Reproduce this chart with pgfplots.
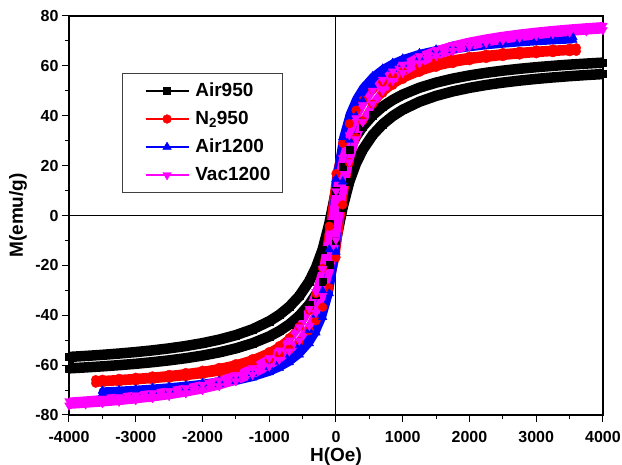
\documentclass[border=0pt]{standalone}
\usepackage{fontspec}
\setmainfont{Liberation Sans}
\usepackage{pgfplots}
\pgfplotsset{compat=1.18}
\definecolor{cBlack}{RGB}{0,0,0}
\definecolor{cRed}{RGB}{255,0,0}
\definecolor{cBlue}{RGB}{0,0,255}
\definecolor{cMag}{RGB}{255,0,255}
\begin{document}
\begin{tikzpicture}
\useasboundingbox (-69pt,-50pt) rectangle (553pt,415pt);
\begin{axis}[
 at={(0pt,0pt)}, anchor=south west,
 scale only axis, width=534pt, height=399pt,
 xmin=-4000, xmax=4000, ymin=-80, ymax=80,
 xtick={-4000,-3000,...,4000}, ytick={-80,-60,...,80},
 minor x tick num=1, minor y tick num=1,
 xtick pos=bottom, ytick pos=left, tick align=outside,
 major tick length=7pt, minor tick length=4pt,
 tick style={black, line width=1pt},
 axis line style={line width=1.3pt},
 /pgf/number format/assume math mode=true,
 /pgf/number format/1000 sep={},
 ticklabel style={font=\fontsize{16}{18}\selectfont\bfseries},
 xticklabel style={yshift=-6pt},
 xlabel={H(Oe)}, ylabel={M(emu/g)},
 label style={font=\fontsize{19}{22}\selectfont\bfseries},
 xlabel style={at={(axis description cs:0.5,0)}, anchor=north, inner sep=0pt, yshift=-32.5pt},
 ylabel style={at={(axis description cs:-0.0955,0.5)}, anchor=center, inner sep=0pt},
 extra x ticks={0}, extra y ticks={0}, extra x tick labels={}, extra y tick labels={},
 extra tick style={grid=major, major grid style={black, line width=1pt}},
 legend cell align=left,
 legend style={at={(0.099,0.857)}, anchor=north west, draw=black!75, line width=0.9pt,
   font=\fontsize{19}{22}\selectfont\bfseries, inner xsep=10pt, inner ysep=7pt, row sep=7pt,
   nodes={inner sep=2pt, text height=13.5pt, text depth=3.5pt},
   /tikz/every odd column/.append style={column sep=4pt}},
 legend image code/.code={\path (0pt,0pt); \draw[mark repeat=2,mark phase=2,#1, line width=1.5pt] plot coordinates {(8pt,0pt) (29.5pt,0pt) (51pt,0pt)};},
]
\addplot[cBlack, line width=10.5pt, line join=round, mark=square*, mark size=3.6pt, mark options={solid, line width=0.4pt}] coordinates {
(4000,61.30) (3750,60.92) (3500,60.50) (3250,60.01) (3000,59.47) (2750,58.83) (2500,58.09) (2250,57.22) (2000,56.17) (1750,54.89) (1500,53.29) (1250,51.23) (1000,48.49) (850,46.35) (700,43.68) (550,40.25) (400,35.68) (300,31.68) (200,26.53) (100,19.67) (0,10.06) (-100,-3.26) (-200,-13.61) (-300,-20.92) (-400,-26.35) (-550,-32.31) (-700,-36.61) (-850,-39.87) (-1000,-42.42) (-1250,-45.62) (-1500,-47.97) (-1750,-49.77) (-2000,-51.19) (-2250,-52.34) (-2500,-53.29) (-2750,-54.09) (-3000,-54.77) (-3250,-55.36) (-3500,-55.87) (-3750,-56.32) (-4000,-56.72)
(-4000,-61.30) (-3750,-60.92) (-3500,-60.50) (-3250,-60.01) (-3000,-59.47) (-2750,-58.83) (-2500,-58.09) (-2250,-57.22) (-2000,-56.17) (-1750,-54.89) (-1500,-53.29) (-1250,-51.23) (-1000,-48.49) (-850,-46.35) (-700,-43.68) (-550,-40.25) (-400,-35.68) (-300,-31.68) (-200,-26.53) (-100,-19.67) (0,-10.06) (100,3.26) (200,13.61) (300,20.92) (400,26.35) (550,32.31) (700,36.61) (850,39.87) (1000,42.42) (1250,45.62) (1500,47.97) (1750,49.77) (2000,51.19) (2250,52.34) (2500,53.29) (2750,54.09) (3000,54.77) (3250,55.36) (3500,55.87) (3750,56.32) (4000,56.72)
};
\addlegendentry{Air950}
\addplot[cRed, line width=7pt, line join=round, mark=*, mark size=4.4pt, mark options={solid, line width=0.4pt}] coordinates {
(3600,67.24) (3500,67.11) (3250,66.76) (3000,66.35) (2750,65.88) (2500,65.33) (2250,64.67) (2000,63.87) (1750,62.88) (1500,61.62) (1250,59.97) (1000,57.71) (850,55.91) (700,53.59) (550,50.50) (400,46.18) (300,42.20) (200,36.79) (100,28.99) (0,16.78) (-100,-4.27) (-200,-21.21) (-300,-31.29) (-400,-37.97) (-550,-44.63) (-700,-49.06) (-850,-52.21) (-1000,-54.57) (-1250,-57.41) (-1500,-59.42) (-1750,-60.91) (-2000,-62.06) (-2250,-62.97) (-2500,-63.72) (-2750,-64.34) (-3000,-64.86) (-3250,-65.30) (-3500,-65.69) (-3600,-65.83)
(-3600,-67.24) (-3500,-67.11) (-3250,-66.76) (-3000,-66.35) (-2750,-65.88) (-2500,-65.33) (-2250,-64.67) (-2000,-63.87) (-1750,-62.88) (-1500,-61.62) (-1250,-59.97) (-1000,-57.71) (-850,-55.91) (-700,-53.59) (-550,-50.50) (-400,-46.18) (-300,-42.20) (-200,-36.79) (-100,-28.99) (0,-16.78) (100,4.27) (200,21.21) (300,31.29) (400,37.97) (550,44.63) (700,49.06) (850,52.21) (1000,54.57) (1250,57.41) (1500,59.42) (1750,60.91) (2000,62.06) (2250,62.97) (2500,63.72) (2750,64.34) (3000,64.86) (3250,65.30) (3500,65.69) (3600,65.83)
};
\addlegendentry{N\textsubscript{2}950}
\addplot[cBlue, line width=7pt, line join=round, mark=triangle*, mark size=5pt, mark options={solid, line width=0.4pt}] coordinates {
(3550,71.52) (3500,71.46) (3250,71.15) (3000,70.80) (2750,70.38) (2500,69.89) (2250,69.31) (2000,68.59) (1750,67.70) (1500,66.55) (1250,65.03) (1000,62.90) (850,61.17) (700,58.90) (550,55.80) (400,51.30) (300,46.98) (200,40.81) (100,31.28) (0,14.60) (-100,-13.60) (-200,-30.28) (-300,-39.81) (-400,-45.98) (-550,-52.01) (-700,-55.95) (-850,-58.73) (-1000,-60.80) (-1250,-63.27) (-1500,-65.00) (-1750,-66.28) (-2000,-67.26) (-2250,-68.04) (-2500,-68.67) (-2750,-69.20) (-3000,-69.64) (-3250,-70.02) (-3500,-70.34)
(-3500,-71.46) (-3250,-71.15) (-3000,-70.80) (-2750,-70.38) (-2500,-69.89) (-2250,-69.31) (-2000,-68.59) (-1750,-67.70) (-1500,-66.55) (-1250,-65.03) (-1000,-62.90) (-850,-61.17) (-700,-58.90) (-550,-55.80) (-400,-51.30) (-300,-46.98) (-200,-40.81) (-100,-31.28) (0,-14.60) (100,13.60) (200,30.28) (300,39.81) (400,45.98) (550,52.01) (700,55.95) (850,58.73) (1000,60.80) (1250,63.27) (1500,65.00) (1750,66.28) (2000,67.26) (2250,68.04) (2500,68.67) (2750,69.20) (3000,69.64) (3250,70.02) (3500,70.34) (3550,70.40)
};
\addlegendentry{Air1200}
\addplot[cMag, line width=7pt, line join=round, mark=triangle*, mark size=5pt, mark options={solid, rotate=180, line width=0.4pt}] coordinates {
(4000,76.17) (3750,75.72) (3500,75.21) (3250,74.63) (3000,73.96) (2750,73.20) (2500,72.30) (2250,71.24) (2000,69.97) (1750,68.40) (1500,66.44) (1250,63.90) (1000,60.49) (850,57.82) (700,54.46) (550,50.11) (400,44.23) (300,39.02) (200,32.24) (100,23.03) (0,9.82) (-100,-8.22) (-200,-21.43) (-300,-30.64) (-400,-37.42) (-550,-44.80) (-700,-50.10) (-850,-54.08) (-1000,-57.18) (-1250,-61.06) (-1500,-63.90) (-1750,-66.07) (-2000,-67.78) (-2250,-69.16) (-2500,-70.30) (-2750,-71.26) (-3000,-72.07) (-3250,-72.77) (-3500,-73.38) (-3750,-73.92) (-4000,-74.39)
(-4000,-76.17) (-3750,-75.72) (-3500,-75.21) (-3250,-74.63) (-3000,-73.96) (-2750,-73.20) (-2500,-72.30) (-2250,-71.24) (-2000,-69.97) (-1750,-68.40) (-1500,-66.44) (-1250,-63.90) (-1000,-60.49) (-850,-57.82) (-700,-54.46) (-550,-50.11) (-400,-44.23) (-300,-39.02) (-200,-32.24) (-100,-23.03) (0,-9.82) (100,8.22) (200,21.43) (300,30.64) (400,37.42) (550,44.80) (700,50.10) (850,54.08) (1000,57.18) (1250,61.06) (1500,63.90) (1750,66.07) (2000,67.78) (2250,69.16) (2500,70.30) (2750,71.26) (3000,72.07) (3250,72.77) (3500,73.38) (3750,73.92) (4000,74.39)
};
\addlegendentry{Vac1200}
\end{axis}
\end{tikzpicture}
\end{document}
